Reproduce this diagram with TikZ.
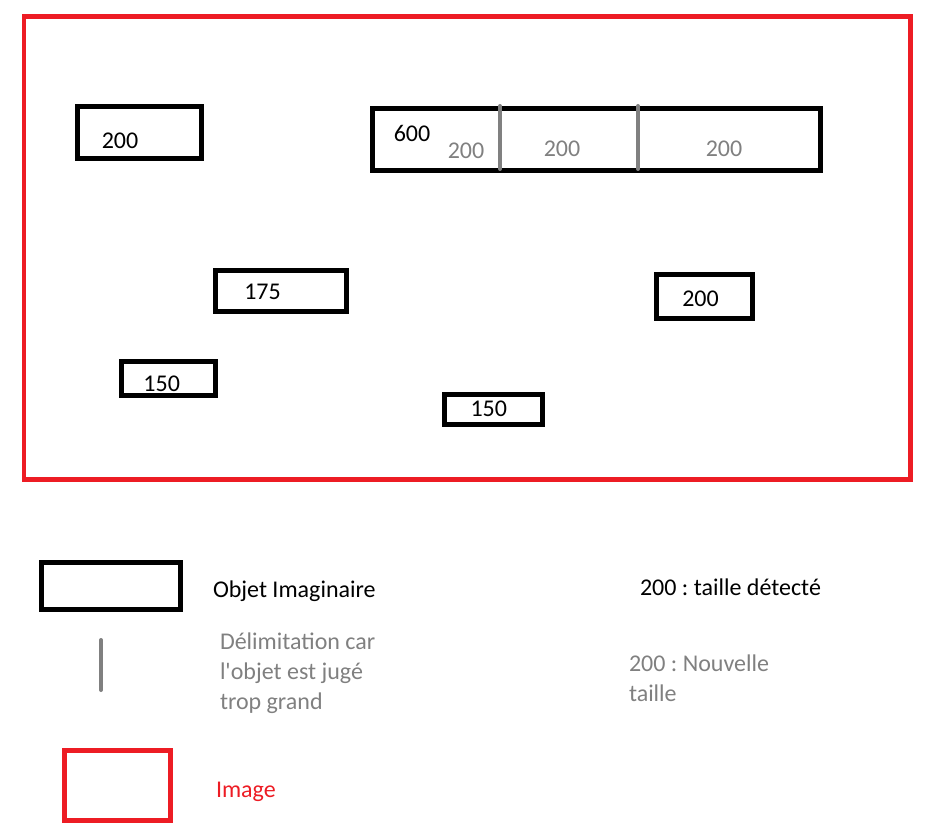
\documentclass[tikz,border=0pt]{standalone}
\usepackage{fontspec}
\setmainfont{Carlito}
\usetikzlibrary{positioning}
\frenchspacing
\newcommand{\objCol}{black}
\newcommand{\cutCol}{gray}
\definecolor{imgred}{RGB}{237,28,36}
\newcommand{\imgCol}{imgred}

\begin{document}
\begin{tikzpicture}[x=1pt,y=-1pt,inner sep=0pt,outer sep=0pt,
	font=\fontsize{24}{30}\selectfont,
	objet/.style={draw=\objCol,line width=5pt,minimum width=#1},
	cut/.style={draw=\cutCol,line width=4pt,line cap=round},
	newsize/.style={text=\cutCol}]
	\useasboundingbox (0,0) rectangle (927,832);
	% the image
	\node[draw=\imgCol,line width=4.5pt,minimum width=886.5,minimum height=463] (img) at (467.25,248) {};
	% detected objects
	\node[objet=124,minimum height=52] (o1) at (139.5,132.5) {};
	\node[objet=448,minimum height=61.5] (o2) at (596.5,139.75) {};
	\node[objet=131,minimum height=41] (o3) at (281,291) {};
	\node[objet=94,minimum height=34] (o4) at (168.5,378.5) {};
	\node[objet=98,minimum height=30] (o5) at (493.5,409.5) {};
	\node[objet=96,minimum height=44] (o6) at (704.5,296.5) {};
	\coordinate (c1) at (500,106);
	\coordinate (c2) at (638,106);
	\draw[cut] (c1) -- ++(0,63);
	\draw[cut] (c2) -- ++(0,63);
	% sizes
	\node[anchor=base] (s1) at (120,148.5) {200};
	\node[anchor=base] (s2) at (412,142) {600};
	\node[anchor=base,newsize] (s2a) at (466,159) {200};
	\node[anchor=base,newsize] (s2b) at (562,157) {200};
	\node[anchor=base,newsize] (s2c) at (724,157) {200};
	\node[anchor=base] (s3) at (262.5,299) {175};
	\node[anchor=base] (s4) at (161.7,391) {150};
	\node[anchor=base] (s5) at (488.8,416.7) {150};
	\node[anchor=base] (s6) at (700.5,306.7) {200};
	% legend
	\node[objet=139,minimum height=47] (lobj) at (111,586) {};
	\node[anchor=base west] (tobj) at (213,597) {Objet Imaginaire};
	\coordinate (lcut) at (101,640);
	\draw[cut] (lcut) -- ++(0,50);
	\node[anchor=base west,newsize,align=left] (tcut) at (220,709) {Délimitation car\\l\textquotesingle objet est jugé\\trop grand};
	\node[draw=\imgCol,line width=4.5pt,minimum width=106,minimum height=70] (limg) at (117.5,785.5) {};
	\node[anchor=base west,text=\imgCol] (timg) at (216,797.5) {Image};
	\node[anchor=base west] (tdet) at (640,595) {200 : taille détecté};
	\node[anchor=base west,newsize,align=left] (tnew) at (629,701) {200 : Nouvelle\\taille};
\end{tikzpicture}
\end{document}
